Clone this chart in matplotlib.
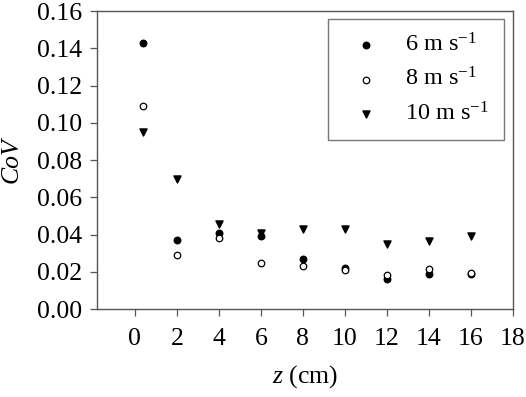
"""Coefficient of variation vs. height z for three wind speeds."""

import matplotlib

matplotlib.use("Agg")
import matplotlib.pyplot as plt  # noqa: E402

z_cm = [0.4, 2, 4, 6, 8, 10, 12, 14, 16]
cov_6 = [0.143, 0.037, 0.041, 0.039, 0.027, 0.022, 0.016, 0.019, 0.019]
cov_8 = [0.109, 0.029, 0.038, 0.0245, 0.023, 0.021, 0.0185, 0.0215, 0.0195]
cov_10 = [0.095, 0.070, 0.0455, 0.041, 0.043, 0.043, 0.035, 0.0365, 0.039]

x_ticks = [0, 2, 4, 6, 8, 10, 12, 14, 16, 18]
y_ticks = [0.00, 0.02, 0.04, 0.06, 0.08, 0.10, 0.12, 0.14, 0.16]

FS = 18.5

plt.rcParams["font.family"] = ["Liberation Serif", "DejaVu Serif"]
plt.rcParams["mathtext.fontset"] = "custom"
plt.rcParams["mathtext.rm"] = "Liberation Serif"
plt.rcParams["mathtext.it"] = "Liberation Serif:italic"

fig = plt.figure(figsize=(5.26, 3.97), dpi=100)
ax = fig.add_axes([97 / 526, 1 - 309 / 397, (513 - 97) / 526, (309 - 11) / 397])

ax.scatter(z_cm, cov_6, s=22, marker="o", color="black", label="6 m s$^{-1}$", zorder=3)
ax.scatter(z_cm, cov_8, s=22, marker="o", facecolor="white", edgecolor="black",
           linewidth=0.9, label="8 m s$^{-1}$", zorder=4)
ax.scatter(z_cm, cov_10, s=26, marker="v", color="black", label="10 m s$^{-1}$", zorder=2)

ax.set_xlim(-1.8, 18)
ax.set_ylim(0, 0.16)
ax.set_xticks(x_ticks)
ax.set_yticks(y_ticks)
ax.set_yticklabels([f"{v:.2f}" for v in y_ticks])
ax.tick_params(direction="out", length=5, width=0.9, color="#555555", labelsize=FS)
ax.tick_params(axis="x", pad=9)
ax.tick_params(axis="y", pad=6)
for spine in ax.spines.values():
    spine.set_color("#555555")
    spine.set_linewidth(1.0)

ax.set_xlabel("$z$ (cm)", fontsize=FS, labelpad=9)
ax.set_ylabel("CoV", fontsize=FS, style="italic", labelpad=10)

leg = ax.legend(loc="upper right", bbox_to_anchor=(0.978, 0.973), fontsize=17.5,
                frameon=True, fancybox=False, edgecolor="#555555",
                borderaxespad=0, handletextpad=0.6, borderpad=0.6,
                labelspacing=0.45, handlelength=2.0, markerscale=1.0)
leg.get_frame().set_linewidth(1.0)

fig.savefig("out.png", dpi=100)
